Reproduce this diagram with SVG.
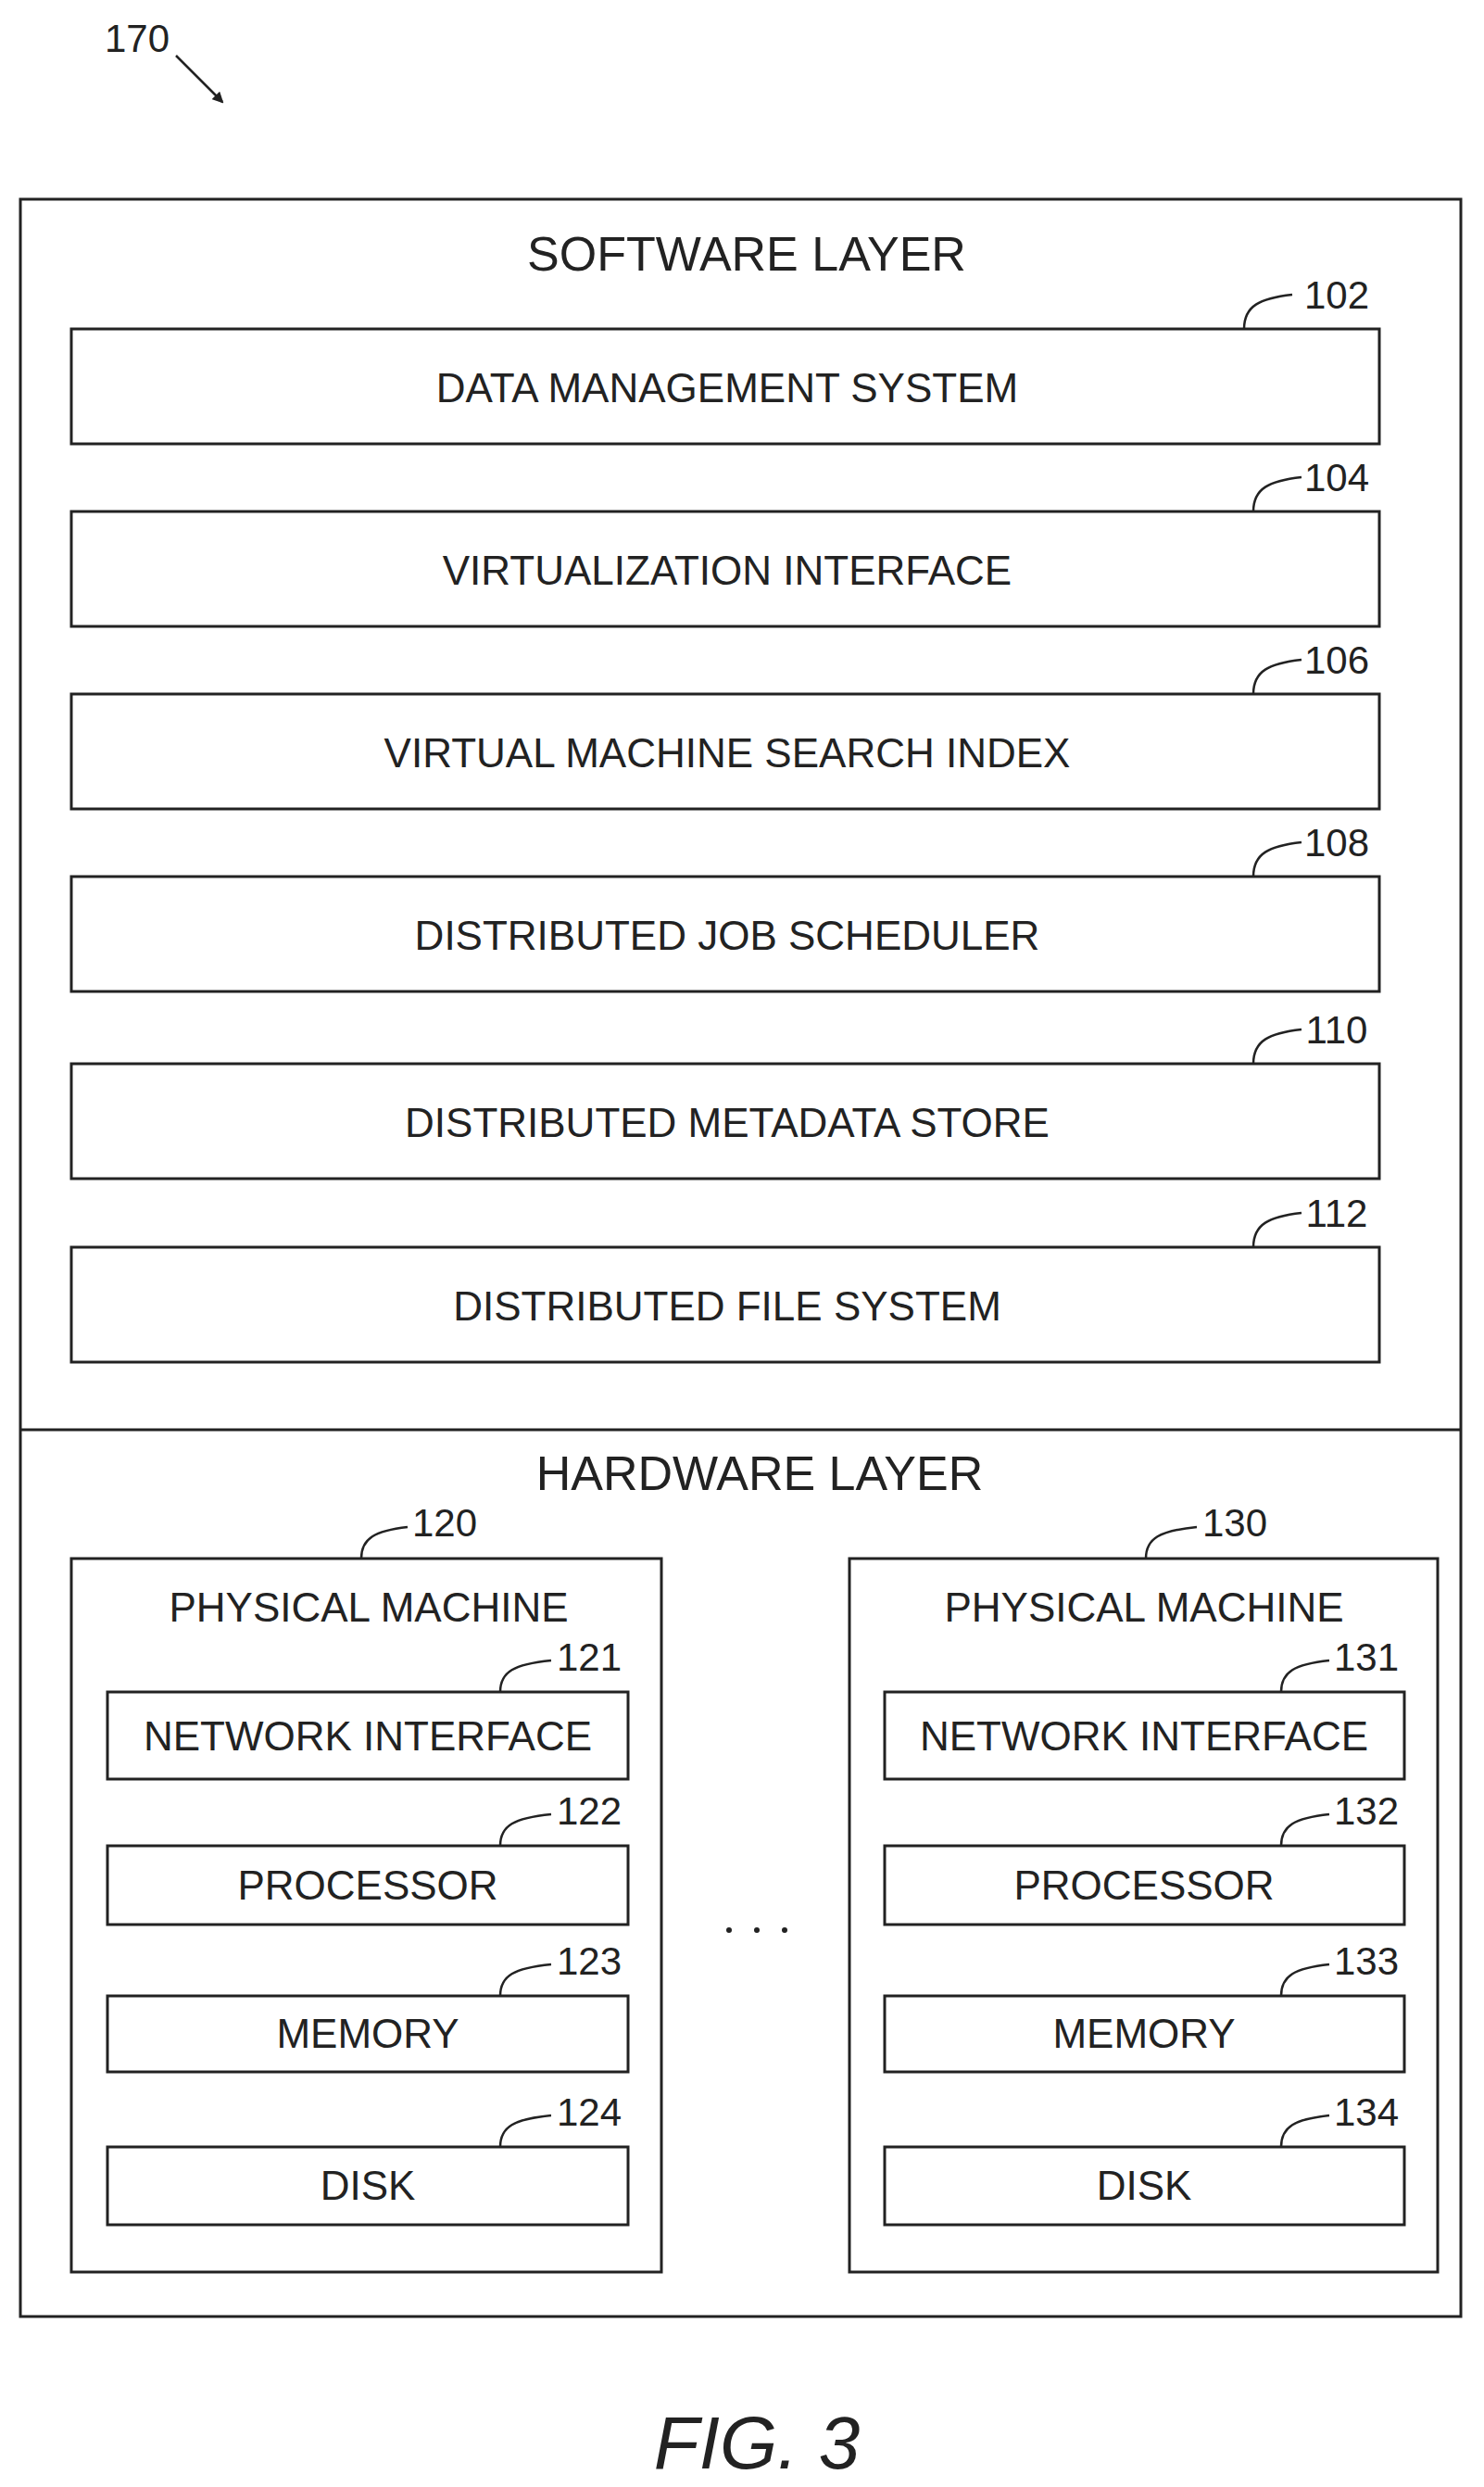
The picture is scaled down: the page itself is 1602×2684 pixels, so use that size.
<svg xmlns="http://www.w3.org/2000/svg" width="1602" height="2684" viewBox="0 0 1602 2684">
<style>
text{font-family:"Liberation Sans",Arial,sans-serif;fill:#222}
.box{fill:none;stroke:#222;stroke-width:3}
.t{font-size:44px;text-anchor:middle}
.h{font-size:52px;text-anchor:middle}
.r{font-size:42px;text-anchor:middle}
.ld{fill:none;stroke:#222;stroke-width:2.5}
</style>
<defs><marker id="ah" markerWidth="12" markerHeight="12" refX="10" refY="6" orient="auto" markerUnits="userSpaceOnUse"><path d="M0,0 L12,6 L0,12 Z" fill="#222"/></marker></defs>
<g id="ref170"><text x="148" y="56" class="r">170</text><path d="M190,60 L240,110" class="ld" marker-end="url(#ah)"/></g>
<g id="outer"><rect x="22" y="215" width="1555" height="2285" class="box"/><line x1="22" y1="1543" x2="1577" y2="1543" stroke="#222" stroke-width="3"/>
<text x="806" y="292" class="h">SOFTWARE LAYER</text><text x="820" y="1608" class="h">HARDWARE LAYER</text></g>
<g id="n102"><rect x="77" y="355" width="1412" height="124" class="box"/><text x="785" y="434" class="t">DATA MANAGEMENT SYSTEM</text><text x="1443" y="333" class="r">102</text><path d="M1343,355 C1343,330 1360,322 1395,318" class="ld"/></g>
<g id="n104"><rect x="77" y="552" width="1412" height="124" class="box"/><text x="785" y="631" class="t">VIRTUALIZATION INTERFACE</text><text x="1443" y="530" class="r">104</text><path d="M1353,552 C1353,527 1370,519 1405,515" class="ld"/></g>
<g id="n106"><rect x="77" y="749" width="1412" height="124" class="box"/><text x="785" y="828" class="t">VIRTUAL MACHINE SEARCH INDEX</text><text x="1443" y="727" class="r">106</text><path d="M1353,749 C1353,724 1370,716 1405,712" class="ld"/></g>
<g id="n108"><rect x="77" y="946" width="1412" height="124" class="box"/><text x="785" y="1025" class="t">DISTRIBUTED JOB SCHEDULER</text><text x="1443" y="924" class="r">108</text><path d="M1353,946 C1353,921 1370,913 1405,909" class="ld"/></g>
<g id="n110"><rect x="77" y="1148" width="1412" height="124" class="box"/><text x="785" y="1227" class="t">DISTRIBUTED METADATA STORE</text><text x="1443" y="1126" class="r">110</text><path d="M1353,1148 C1353,1123 1370,1115 1405,1111" class="ld"/></g>
<g id="n112"><rect x="77" y="1346" width="1412" height="124" class="box"/><text x="785" y="1425" class="t">DISTRIBUTED FILE SYSTEM</text><text x="1443" y="1324" class="r">112</text><path d="M1353,1346 C1353,1321 1370,1313 1405,1309" class="ld"/></g>
<g id="n120"><rect x="77" y="1682" width="637" height="770" class="box"/><text x="398" y="1750" class="t">PHYSICAL MACHINE</text><text x="480" y="1658" class="r">120</text><path d="M390,1682 C390,1660 405,1652 440,1648" class="ld"/></g>
<g id="n121"><rect x="116" y="1826" width="562" height="94" class="box"/><text x="397" y="1889" class="t">NETWORK INTERFACE</text><text x="636" y="1803" class="r">121</text><path d="M540,1826 C540,1804 555,1796 595,1792" class="ld"/></g>
<g id="n122"><rect x="116" y="1992" width="562" height="85" class="box"/><text x="397" y="2050" class="t">PROCESSOR</text><text x="636" y="1969" class="r">122</text><path d="M540,1992 C540,1970 555,1962 595,1958" class="ld"/></g>
<g id="n123"><rect x="116" y="2154" width="562" height="82" class="box"/><text x="397" y="2210" class="t">MEMORY</text><text x="636" y="2131" class="r">123</text><path d="M540,2154 C540,2132 555,2124 595,2120" class="ld"/></g>
<g id="n124"><rect x="116" y="2317" width="562" height="84" class="box"/><text x="397" y="2374" class="t">DISK</text><text x="636" y="2294" class="r">124</text><path d="M540,2317 C540,2295 555,2287 595,2283" class="ld"/></g>
<g id="n130"><rect x="917" y="1682" width="635" height="770" class="box"/><text x="1235" y="1750" class="t">PHYSICAL MACHINE</text><text x="1333" y="1658" class="r">130</text><path d="M1237,1682 C1237,1660 1252,1652 1292,1648" class="ld"/></g>
<g id="n131"><rect x="955" y="1826" width="561" height="94" class="box"/><text x="1235" y="1889" class="t">NETWORK INTERFACE</text><text x="1475" y="1803" class="r">131</text><path d="M1383,1826 C1383,1804 1398,1796 1435,1792" class="ld"/></g>
<g id="n132"><rect x="955" y="1992" width="561" height="85" class="box"/><text x="1235" y="2050" class="t">PROCESSOR</text><text x="1475" y="1969" class="r">132</text><path d="M1383,1992 C1383,1970 1398,1962 1435,1958" class="ld"/></g>
<g id="n133"><rect x="955" y="2154" width="561" height="82" class="box"/><text x="1235" y="2210" class="t">MEMORY</text><text x="1475" y="2131" class="r">133</text><path d="M1383,2154 C1383,2132 1398,2124 1435,2120" class="ld"/></g>
<g id="n134"><rect x="955" y="2317" width="561" height="84" class="box"/><text x="1235" y="2374" class="t">DISK</text><text x="1475" y="2294" class="r">134</text><path d="M1383,2317 C1383,2295 1398,2287 1435,2283" class="ld"/></g>
<g id="dots"><circle cx="787" cy="2083" r="3" fill="#222"/><circle cx="817" cy="2083" r="3" fill="#222"/><circle cx="847" cy="2083" r="3" fill="#222"/></g>
<g id="fig"><text x="817" y="2664" style="font-size:80px;font-style:italic;text-anchor:middle">FIG. 3</text></g>
</svg>
